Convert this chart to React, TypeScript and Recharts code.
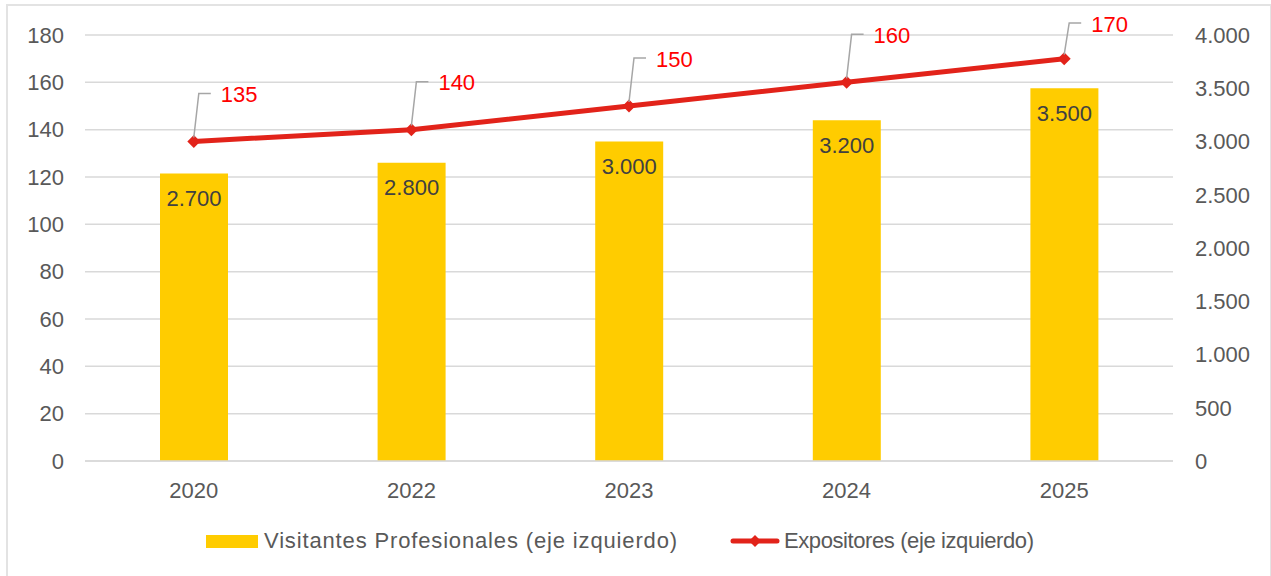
import React from 'react';
import {
  Bar,
  CartesianGrid,
  ComposedChart,
  LabelList,
  Line,
  XAxis,
  YAxis,
} from 'recharts';

// Visitantes (right axis, bars) vs Expositores (left axis, line)

const YEARS = ['2020', '2022', '2023', '2024', '2025'];
const VISITANTES = [2700, 2800, 3000, 3200, 3500];
const EXPOSITORES = [135, 140, 150, 160, 170];

const LEFT_TICKS = [0, 20, 40, 60, 80, 100, 120, 140, 160, 180];
const RIGHT_TICKS = [0, 500, 1000, 1500, 2000, 2500, 3000, 3500, 4000];

const DATA = YEARS.map((year, i) => ({
  year,
  visitantes: VISITANTES[i],
  expositores: EXPOSITORES[i],
}));

const FONT = '"Liberation Sans", Arial, sans-serif';
const INK = '#595959';
const YELLOW = '#FFCC00';
const RED = '#E2231A';
const GRID = '#D9D9D9';

const TICK = { fontFamily: FONT, fontSize: 22, fill: INK } as const;

const thousands = (v: number) => String(v).replace(/\B(?=(\d{3})+(?!\d))/g, '.');

function Diamond({ cx, cy }: { cx?: number; cy?: number }) {
  if (cx == null || cy == null) return null;
  const r = 6.5;
  return (
    <polygon
      points={`${cx},${cy - r} ${cx + r},${cy} ${cx},${cy + r} ${cx - r},${cy}`}
      fill={RED}
    />
  );
}

// Excel-style callout: grey leader going up-right, red value next to it
function LineLabel(props: any) {
  const { x, y, value } = props;
  if (x == null || y == null) return null;
  const ty = Math.max(y - 47, 24);
  return (
    <g>
      <polyline
        points={`${x},${y - 4} ${x + 5},${ty - 1} ${x + 17},${ty - 1}`}
        fill="none"
        stroke="#A6A6A6"
        strokeWidth={1.5}
      />
      <text
        x={x + 27}
        y={ty}
        dy="0.355em"
        fill="#FF0000"
        fontFamily={FONT}
        fontSize={22}
      >
        {value}
      </text>
    </g>
  );
}

function LegendRow() {
  return (
    <div
      style={{
        position: 'absolute',
        left: 206,
        top: 528,
        display: 'flex',
        alignItems: 'center',
        fontFamily: FONT,
        fontSize: 22,
        color: INK,
        whiteSpace: 'nowrap',
      }}
    >
      <span style={{ display: 'inline-block', width: 52, height: 13, background: YELLOW }} />
      <span style={{ marginLeft: 6, letterSpacing: 0.85 }}>
        Visitantes Profesionales (eje izquierdo)
      </span>
      <svg width={50} height={16} style={{ marginLeft: 52 }}>
        <line x1={3} y1={8} x2={47} y2={8} stroke={RED} strokeWidth={5} strokeLinecap="round" />
        <polygon points="25,2 31,8 25,14 19,8" fill={RED} />
      </svg>
      <span style={{ marginLeft: 4, letterSpacing: -0.4 }}>Expositores (eje izquierdo)</span>
    </div>
  );
}

export default function App() {
  return (
    <div
      style={{
        position: 'absolute',
        left: 0,
        top: 0,
        width: 1271,
        height: 576,
        background: '#fff',
        overflow: 'hidden',
      }}
    >
      <div
        style={{
          position: 'absolute',
          left: 6,
          top: 4,
          width: 1262,
          height: 620,
          border: '2px solid #E3E3E3',
        }}
      />
      <div style={{ position: 'absolute', left: 0, top: 0 }}>
        <ComposedChart
          width={1271}
          height={576}
          data={DATA}
          margin={{ top: 35, right: 0, bottom: 65, left: 0 }}
        >
          <CartesianGrid
            yAxisId="left"
            vertical={false}
            stroke={GRID}
            strokeWidth={1.5}
          />
          <XAxis
            dataKey="year"
            tickLine={false}
            axisLine={{ stroke: GRID, strokeWidth: 1.5 }}
            tick={TICK}
            tickMargin={15}
            height={50}
            interval={0}
          />
          <YAxis
            yAxisId="left"
            orientation="left"
            domain={[0, 180]}
            ticks={LEFT_TICKS}
            axisLine={false}
            tickLine={false}
            tick={TICK}
            tickMargin={15}
            width={85}
            interval={0}
          />
          <YAxis
            yAxisId="right"
            orientation="right"
            domain={[0, 4000]}
            ticks={RIGHT_TICKS}
            axisLine={false}
            tickLine={false}
            tick={{ ...TICK, textAnchor: 'start' }}
            tickMargin={16}
            tickFormatter={thousands}
            width={98}
            interval={0}
          />
          <Bar
            yAxisId="right"
            dataKey="visitantes"
            fill={YELLOW}
            barSize={68}
            isAnimationActive={false}
          >
            <LabelList
              dataKey="visitantes"
              position="insideTop"
              offset={17}
              fill="#404040"
              fontFamily={FONT}
              fontSize={22}
              formatter={(v: any) => thousands(Number(v))}
            />
          </Bar>
          <Line
            yAxisId="left"
            type="linear"
            dataKey="expositores"
            stroke={RED}
            strokeWidth={5}
            dot={(p: any) => <Diamond key={p.index} cx={p.cx} cy={p.cy} />}
            activeDot={false}
            isAnimationActive={false}
          >
            <LabelList dataKey="expositores" content={LineLabel} />
          </Line>
        </ComposedChart>
      </div>
      <LegendRow />
    </div>
  );
}
